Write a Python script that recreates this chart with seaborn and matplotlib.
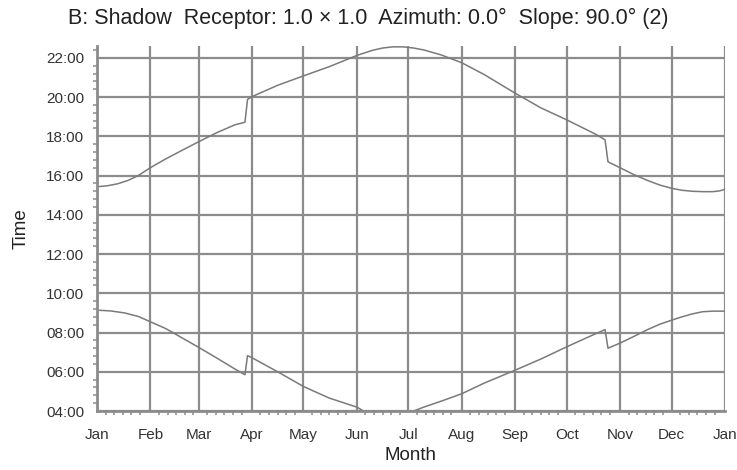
import numpy as np
import pandas as pd
import seaborn as sns
import matplotlib.pyplot as plt
from matplotlib.ticker import FixedLocator, MultipleLocator

# day of year -> time of day (hours)
upper_day = [0, 6, 12, 18, 24, 31, 40, 48, 59, 70, 80, 86, 87.5, 90, 105, 120,
             135, 151, 160, 166, 172, 178, 184, 190, 200, 212, 225, 243, 258,
             273, 290, 295.3, 297, 304, 312, 320, 327, 334, 340, 346, 352, 358,
             362, 365]
upper_time = [15.43, 15.48, 15.58, 15.75, 16.0, 16.4, 16.85, 17.22, 17.72, 18.2,
              18.58, 18.72, 19.88, 20.02, 20.6, 21.08, 21.55, 22.12, 22.38, 22.5,
              22.56, 22.56, 22.5, 22.4, 22.15, 21.75, 21.15, 20.2, 19.45, 18.84,
              18.1, 17.82, 16.7, 16.4, 16.05, 15.75, 15.52, 15.35, 15.25, 15.2,
              15.18, 15.18, 15.22, 15.3]

lower_day = [0, 8, 16, 24, 31, 40, 48, 59, 70, 80, 86, 87.5, 90, 105, 120, 135,
             151, 155, 162, 170, 178, 184, 190, 200, 212, 225, 243, 258, 273,
             285, 295.3, 297, 304, 312, 320, 327, 334, 340, 346, 352, 358, 365]
lower_time = [9.14, 9.1, 9.0, 8.82, 8.55, 8.2, 7.8, 7.25, 6.68, 6.15, 5.85, 6.82,
              6.72, 6.0, 5.25, 4.66, 4.2, 4.0, 3.85, 3.78, 3.85, 4.0, 4.2, 4.5,
              4.88, 5.42, 6.08, 6.65, 7.27, 7.75, 8.15, 7.2, 7.46, 7.8, 8.15,
              8.42, 8.63, 8.8, 8.95, 9.06, 9.09, 9.09]

month_starts = [0, 31, 59, 90, 120, 151, 181, 212, 243, 273, 304, 334, 365]
month_labels = ["Jan", "Feb", "Mar", "Apr", "May", "Jun", "Jul", "Aug", "Sep",
                "Oct", "Nov", "Dec", "Jan"]
hour_ticks = [4, 6, 8, 10, 12, 14, 16, 18, 20, 22]
hour_labels = [f"{h:02d}:00" for h in hour_ticks]

upper = pd.DataFrame({"day": upper_day, "time": upper_time})
lower = pd.DataFrame({"day": lower_day, "time": lower_time})

sns.set_style("white")
plt.rcParams["font.family"] = ["Liberation Sans", "DejaVu Sans"]

grid_col = "#8c8c8c"
line_col = "#7a7a7a"

fig = plt.figure(figsize=(7.37, 4.70), dpi=100)
ax = fig.add_axes([0.1316, 0.1255, 0.8521, 0.7765])

sns.lineplot(data=upper, x="day", y="time", ax=ax, color=line_col, linewidth=1.1)
sns.lineplot(data=lower, x="day", y="time", ax=ax, color=line_col, linewidth=1.1)

ax.set_xlim(0, 365)
ax.set_ylim(4, 22.6)

ax.xaxis.set_major_locator(FixedLocator(month_starts))
ax.set_xticklabels(month_labels)
minor_x = [m + d for m in month_starts[:-1] for d in (5, 10, 15, 20, 25)]
ax.xaxis.set_minor_locator(FixedLocator(minor_x))
ax.yaxis.set_major_locator(FixedLocator(hour_ticks))
ax.set_yticklabels(hour_labels)
ax.yaxis.set_minor_locator(MultipleLocator(0.4))

ax.grid(True, which="major", color=grid_col, linewidth=1.6)
ax.set_axisbelow(True)

for s in ["top", "right"]:
    ax.spines[s].set_visible(False)
for s in ["left", "bottom"]:
    ax.spines[s].set_color(grid_col)
    ax.spines[s].set_linewidth(2)

ax.tick_params(which="major", direction="out", length=6, width=1.3,
               color=grid_col, labelsize=11, labelcolor="#333333", pad=3)
ax.tick_params(axis="x", which="major", pad=6)
ax.tick_params(which="minor", direction="out", length=3, width=1.1,
               color=grid_col, left=True, bottom=True)

ax.set_xlabel("Month", fontsize=13.5, color="#222222", labelpad=4)
ax.set_ylabel("Time", fontsize=13.5, color="#222222", labelpad=12)

fig.text(0.5, 0.96, "B: Shadow  Receptor: 1.0 × 1.0  Azimuth: 0.0°  Slope: 90.0° (2)",
         ha="center", va="center", fontsize=15.5, color="#222222")

fig.savefig("out.png", dpi=100)
